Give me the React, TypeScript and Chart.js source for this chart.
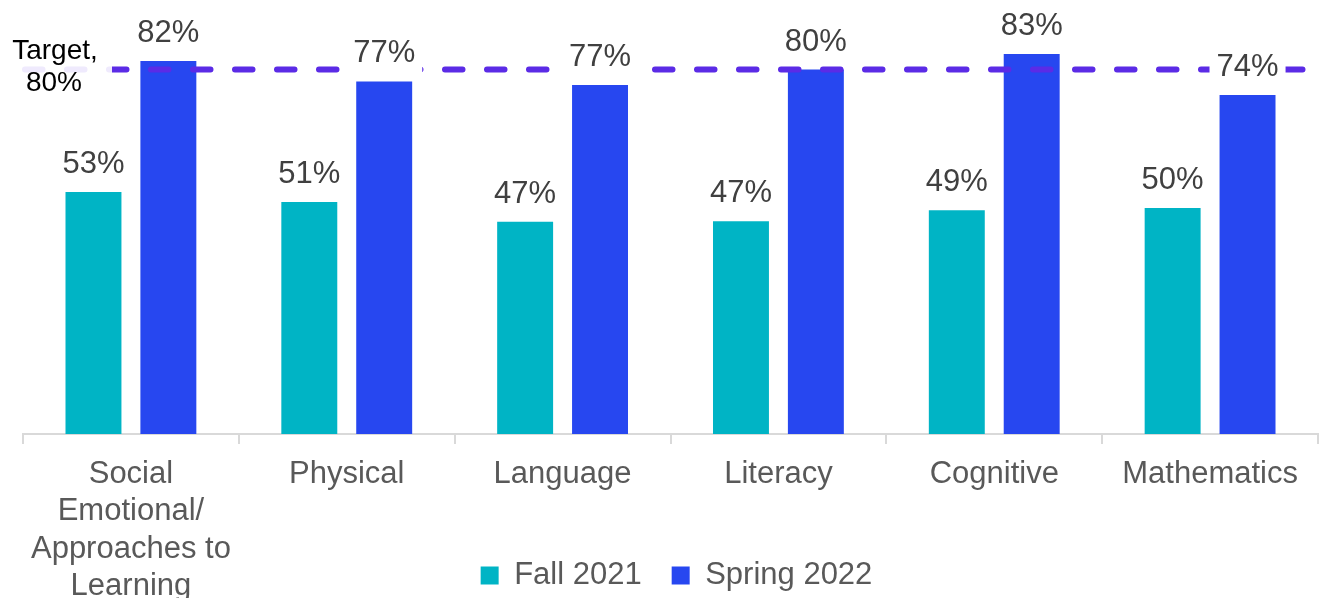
import React, { useEffect, useRef } from "react";
import { Chart, registerables } from "chart.js";

Chart.register(...registerables);

const categories: (string | string[])[] = [
  ["Social", "Emotional/", "Approaches to", "Learning"],
  "Physical",
  "Language",
  "Literacy",
  "Cognitive",
  "Mathematics",
];
const fall2021 = [53.1, 50.9, 46.6, 46.7, 49.1, 49.6];
const spring2022 = [81.9, 77.4, 76.6, 80.0, 83.4, 74.4];
const seriesNames = ["Fall 2021", "Spring 2022"];
const TARGET = 80;
const targetLabel = ["Target,", "80%"];

const FONT = "'Liberation Sans', Arial, sans-serif";

const layoutFixPlugin = {
  id: "layoutFix",
  afterLayout(chart: any) {
    const x = chart.scales.x;
    x.bottom = chart.height;
    if (chart.legend) {
      chart.legend.top += 3;
      chart.legend.bottom += 3;
      chart.legend.left += 6;
      chart.legend.right += 6;
    }
  },
};

const overlayPlugin = {
  id: "overlay",
  afterDatasetsDraw(chart: any) {
    const { ctx, chartArea, scales } = chart;
    const y = scales.y.getPixelForValue(TARGET);
    ctx.save();
    // target line
    ctx.strokeStyle = "#5B2BE6";
    ctx.lineWidth = 6;
    ctx.lineCap = "round";
    ctx.setLineDash([17.5, 24.5]);
    ctx.beginPath();
    ctx.moveTo(chartArea.left + 2, y);
    ctx.lineTo(chartArea.right, y);
    ctx.stroke();
    ctx.setLineDash([]);

    // target label
    ctx.fillStyle = "rgba(255,255,255,0.9)";
    ctx.fillRect(16, y - 8, 96, 16);
    ctx.fillStyle = "#000000";
    ctx.font = `28px ${FONT}`;
    ctx.textAlign = "center";
    ctx.textBaseline = "alphabetic";
    ctx.fillText(targetLabel[0], 55, y - 11);
    ctx.fillText(targetLabel[1], 54, y + 21);

    // value labels
    ctx.font = `31px ${FONT}`;
    chart.data.datasets.forEach((ds: any, di: number) => {
      const meta = chart.getDatasetMeta(di);
      meta.data.forEach((bar: any, i: number) => {
        const text = Math.round(ds.data[i]) + "%";
        const w = ctx.measureText(text).width;
        const base = bar.y - 19;
        ctx.fillStyle = "#ffffff";
        ctx.fillRect(bar.x - w / 2 - 7, base - 28, w + 14, 41);
        ctx.fillStyle = "#404040";
        ctx.fillText(text, bar.x, base);
      });
    });
    ctx.restore();
  },
};

export default function App() {
  const ref = useRef<HTMLCanvasElement | null>(null);
  useEffect(() => {
    if (!ref.current) return;
    const chart = new Chart(ref.current, {
      type: "bar",
      data: {
        labels: categories,
        datasets: [
          {
            label: seriesNames[0],
            data: fall2021,
            backgroundColor: "#00B4C5",
            categoryPercentage: 0.694,
            barPercentage: 0.747,
          },
          {
            label: seriesNames[1],
            data: spring2022,
            backgroundColor: "#2747F0",
            categoryPercentage: 0.694,
            barPercentage: 0.747,
          },
        ],
      },
      options: {
        animation: false,
        responsive: true,
        maintainAspectRatio: false,
        layout: { padding: { left: 23, right: 6, top: 24, bottom: 0 } },
        plugins: {
          tooltip: { enabled: false },
          legend: {
            position: "bottom",
            labels: {
              font: { family: FONT, size: 31 },
              color: "#595959",
              boxWidth: 18,
              boxHeight: 18,
              padding: 30,
            },
          },
        },
        scales: {
          y: {
            display: false,
            min: 0,
            max: 90,
          },
          x: {
            afterFit: (scale: any) => {
              scale.height = 93;
            },
            grid: {
              display: true,
              drawOnChartArea: false,
              drawTicks: true,
              tickLength: 10,
              color: "#d9d9d9",
              lineWidth: 2,
              offset: true,
            },
            border: { display: true, color: "#d9d9d9", width: 2 },
            ticks: {
              font: { family: FONT, size: 31 },
              color: "#595959",
              padding: 12,
              maxRotation: 0,
              autoSkip: false,
            },
          },
        },
      },
      plugins: [layoutFixPlugin, overlayPlugin],
    });
    return () => chart.destroy();
  }, []);
  return (
    <div style={{ position: "absolute", left: 0, top: 0, width: 1324, height: 598 }}>
      <canvas ref={ref} />
    </div>
  );
}
